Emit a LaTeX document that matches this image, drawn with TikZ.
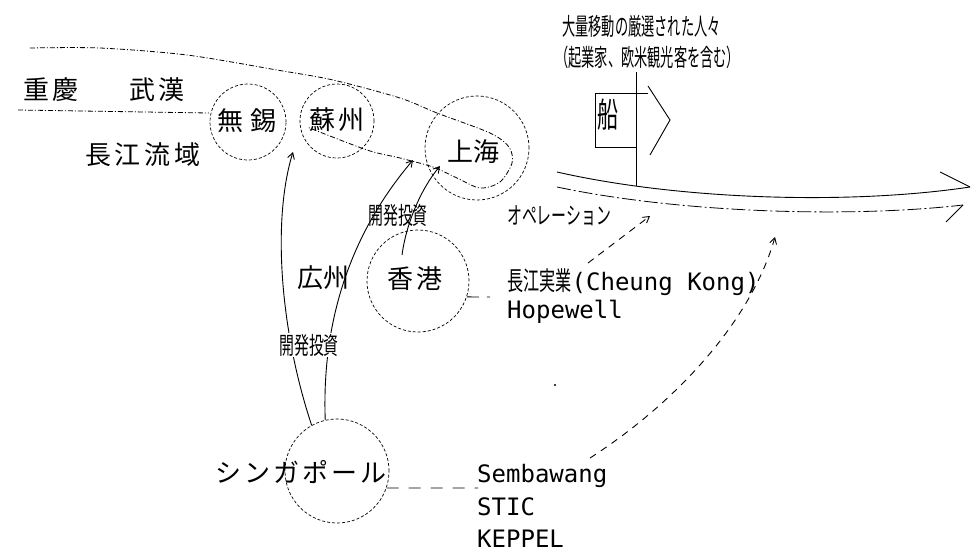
\documentclass[tikz,border=0pt]{standalone}
\usepackage{fontspec}
\newfontfamily\cjk{Noto Sans CJK JP}
\newfontfamily\cjkn[FakeStretch=0.62]{Noto Sans CJK JP}
\newfontfamily\cjkt[FakeStretch=0.55]{Noto Sans CJK JP}
\newfontfamily\mono{DejaVu Sans Mono}
\usetikzlibrary{arrows.meta}
\begin{document}
\begin{tikzpicture}[x=1pt,y=-1pt,
  ring/.style={draw, circle, dash pattern=on 3pt off 2pt, line width=0.7pt, inner sep=0pt, minimum size=#1},
  big/.style={inner sep=0pt, font=\cjk\fontsize{26}{28}\selectfont},
  small/.style={inner sep=0pt, font=\cjkn\fontsize{24}{26}\selectfont},
  toptext/.style={inner sep=0pt, anchor=west, font=\cjkt\fontsize{24}{26}\selectfont},
  latin/.style={inner sep=0pt, font=\mono\fontsize{24}{26}\selectfont, anchor=base west},
  river/.style={line width=0.8pt, dash pattern=on 5pt off 2pt on 1pt off 2pt},
  solidln/.style={line width=0.9pt},
  arr/.style={line width=0.9pt, -{Straight Barb[length=6pt,width=7pt]}},
  darr/.style={arr, dash pattern=on 7pt off 6pt},
]
\path[use as bounding box, fill=white] (0,0) rectangle (973,552);

% circles
\node[ring=76pt] (cWuxi) at (248,122) {};
\node[ring=74pt] (cSuzhou) at (337,121) {};
\node[ring=104pt] (cShanghai) at (477,148) {};
\node[ring=102pt] (cHK) at (418,281) {};
\node[ring=104pt] (cSing) at (337,471) {};

% big labels
\node[big] (chongqing) at (51,90) {重\hspace{4pt}慶};
\node[big] (wuhan) at (157,90) {武\hspace{4pt}漢};
\node[big] (yangtze) at (143,155) {長\hspace{4pt}江\hspace{4pt}流\hspace{4pt}域};
\node[big] (wuxi) at (247,121) {無\hspace{7pt}錫};
\node[big] (suzhou) at (337,120) {蘇\hspace{3pt}州};
\node[big] (shanghai) at (473,152) {上海};
\node[big] (guangzhou) at (323,278) {広州};
\node[big] (hk) at (415,279) {香\hspace{3pt}港};
\node[big] (sing) at (301,472) {シ\hspace{3pt}ン\hspace{3pt}ガ\hspace{3pt}ポ\hspace{3pt}ー\hspace{3pt}ル};

% small condensed labels
\node[toptext] (top1) at (562,26) {大量移動の厳選された人々};
\node[toptext] (top2) at (555,57) {（起業家、欧米観光客を含む）};
\node[small, anchor=west] (oper) at (507,216) {オペレーション};
\node[small] (inv1) at (398,215) {開発投資};
\node[inner sep=0pt, font=\cjkn\fontsize{34}{36}\selectfont] (ship) at (608,115) {船};

% latin labels
\node[latin] (ck) at (507,290) {{\cjkn\fontsize{26}{28}\selectfont 長江実業}(Cheung Kong)};
\node[latin] (hope) at (507,318) {Hopewell};
\node[latin] (semb) at (477,482) {Sembawang};
\node[latin] (stic) at (477,515) {STIC};
\node[latin] (kep) at (477,547) {KEPPEL};

% river lines
\coordinate (rv0) at (18,110);
\coordinate (rv1) at (209,113);
\draw[river] (rv0) -- (rv1);
\draw[river] plot[smooth] coordinates {(30,48) (100,48) (187,55) (277,70) (333,80) (400,98) (437,113) (490,133) (509,147) (512,163) (500,182) (480,188) (457,178) (433,167) (400,158) (367,150) (307,127)};

% investment arrows
\coordinate (tipA) at (293,152);
\coordinate (tipB) at (413,160);
\coordinate (tipC) at (440,166);
\coordinate (hkstart) at (402,255);
\draw[arr] (cSing.119) .. controls (280,330) and (272,220) .. (tipA);
\draw[arr] (cSing.103) .. controls (322,330) and (345,240) .. (tipB);
\node[small, fill=white, inner sep=1pt] (inv2) at (309,345) {開発投資};
\draw[arr] (hkstart) .. controls (406,225) and (420,190) .. (tipC);

% company links
\coordinate (hkend) at (490,297);
\draw[line width=0.8pt, dash pattern=on 12pt off 8pt] (cHK.-18) -- (hkend);
\coordinate (singend) at (478,488);
\draw[line width=0.8pt, dash pattern=on 12pt off 10pt] (cSing.-19) -- (singend);

% dashed arrows to the flow
\coordinate (d1s) at (588,263);
\coordinate (d1e) at (650,216);
\draw[darr] (d1s) -- (d1e);
\coordinate (d2s) at (590,458);
\coordinate (d2e) at (775,237);
\draw[darr] (d2s) .. controls (680,400) and (752,318) .. (d2e);

% big flow arrow
\coordinate (u0) at (557,172);
\coordinate (u1) at (970,187);
\coordinate (l0) at (557,187);
\coordinate (l1) at (963,205);
\draw[solidln] (u0) .. controls (680,200) and (850,205) .. (u1);
\draw[line width=0.8pt, dash pattern=on 14pt off 3pt on 2pt off 3pt] (l0) .. controls (680,213) and (850,218) .. (l1);
\coordinate (ub) at (940,172);
\coordinate (lb) at (946,222);
\draw[solidln] (ub) -- (u1);
\draw[solidln] (lb) -- (l1);

% vertical line from top text
\coordinate (v0) at (636,72);
\coordinate (v1) at (636,186);
\draw[solidln] (v0) -- (v1);

% ship box
\coordinate (s1) at (595,93);
\coordinate (s2) at (648,93);
\coordinate (s3) at (648,86);
\coordinate (s4) at (670,120);
\coordinate (s5) at (650,155);
\coordinate (s6) at (595,147);
\coordinate (s7) at (636,147);
\draw[solidln] (s2) -- (s1) -- (s6) -- (s7);
\draw[solidln] (s3) -- (s4) -- (s5);

% stray dot
\fill (555,385) circle (1.2pt);
\end{tikzpicture}
\end{document}
